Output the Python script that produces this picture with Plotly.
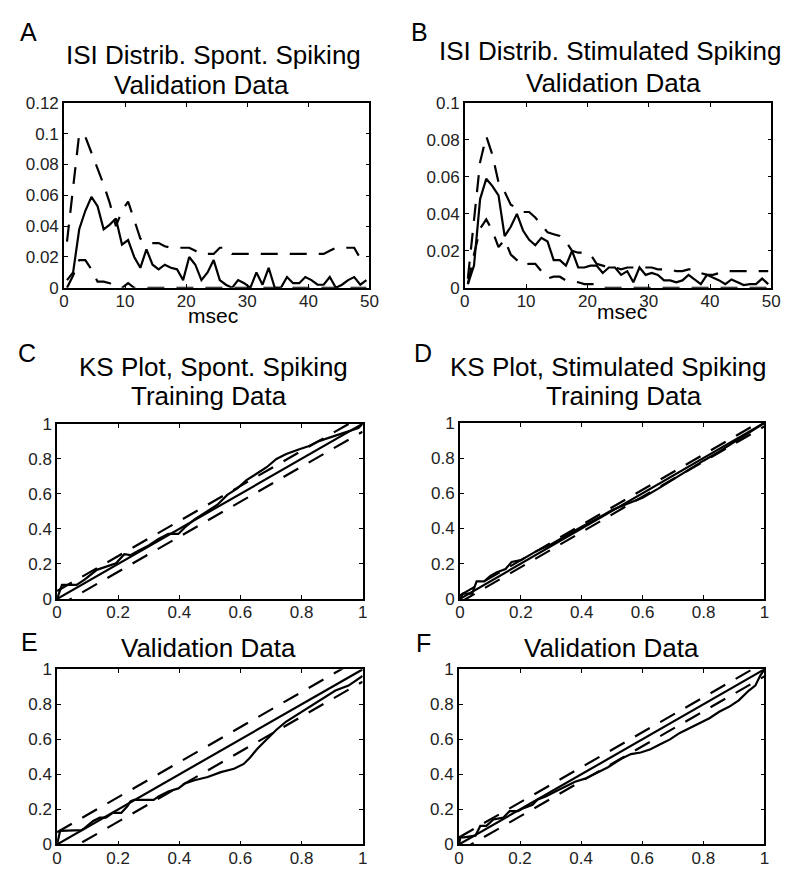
import plotly.graph_objects as go

W, H = 798, 875
FONT = "Liberation Sans, Arial, Helvetica, sans-serif"

# ---------------- data ----------------
isi_msec = [i + 0.5 for i in range(50)]

A_model = [0.005, 0.010, 0.038, 0.050, 0.059, 0.053, 0.038, 0.041, 0.045, 0.028,
           0.031, 0.020, 0.013, 0.025, 0.015, 0.012, 0.015, 0.013, 0.012, 0.005,
           0.020, 0.015, 0.005, 0.010, 0.018, 0.005, 0.002, 0.000, 0.005, 0.003,
           0.000, 0.010, 0.002, 0.013, 0.000, 0.000, 0.007, 0.003, 0.003, 0.007,
           0.005, 0.002, 0.002, 0.007, 0.000, 0.002, 0.005, 0.007, 0.002, 0.005]
A_upper = [0.030, 0.065, 0.100, 0.098, 0.088, 0.078, 0.067, 0.055, 0.040, 0.050,
           0.056, 0.044, 0.032, 0.029, 0.029, 0.029, 0.027, 0.026, 0.026, 0.026,
           0.026, 0.024, 0.022, 0.022, 0.022, 0.026, 0.026, 0.022, 0.022, 0.022,
           0.022, 0.022, 0.022, 0.022, 0.022, 0.022, 0.022, 0.022, 0.022, 0.022,
           0.022, 0.022, 0.022, 0.024, 0.026, 0.026, 0.026, 0.026, 0.019, 0.021]
A_lower = [0.000, 0.008, 0.018, 0.018, 0.012, 0.004, 0.004, 0.003, 0.000, 0.000,
           0.003, 0.000] + [0.0] * 38

B_model = [0.002, 0.012, 0.048, 0.059, 0.055, 0.050, 0.028, 0.033, 0.040, 0.031,
           0.026, 0.023, 0.027, 0.025, 0.015, 0.015, 0.012, 0.020, 0.011, 0.011,
           0.012, 0.012, 0.008, 0.011, 0.011, 0.007, 0.009, 0.003, 0.011, 0.007,
           0.008, 0.007, 0.004, 0.004, 0.003, 0.004, 0.007, 0.0045, 0.002, 0.007,
           0.0055, 0.004, 0.002, 0.0045, 0.003, 0.0015, 0.002, 0.002, 0.005, 0.002]
B_upper = [0.005, 0.035, 0.068, 0.082, 0.072, 0.057, 0.052, 0.045, 0.043, 0.041,
           0.041, 0.038, 0.034, 0.030, 0.029, 0.028, 0.025, 0.020, 0.019, 0.019,
           0.018, 0.013, 0.012, 0.011, 0.011, 0.010, 0.011, 0.011, 0.011, 0.011,
           0.011, 0.010, 0.010, 0.010, 0.009, 0.009, 0.010, 0.010, 0.008, 0.007,
           0.007, 0.008, 0.009, 0.009, 0.009, 0.009, 0.009, 0.009, 0.009, 0.009]
B_lower = [0.002, 0.018, 0.032, 0.037, 0.031, 0.022, 0.026, 0.018, 0.015, 0.012,
           0.013, 0.013, 0.009, 0.005, 0.006, 0.006, 0.004, 0.0035, 0.003, 0.002,
           0.002, 0.002] + [0.0] * 28

# KS plots: empirical curve (model quantiles vs uniform quantiles)
C_x = [0, 0.016, 0.064, 0.09, 0.13, 0.16, 0.193, 0.22, 0.24, 0.268, 0.3, 0.332, 0.364,
       0.397, 0.418, 0.45, 0.493, 0.525, 0.557, 0.59, 0.62, 0.654, 0.686, 0.718, 0.75,
       0.793, 0.825, 0.857, 0.89, 0.92, 0.954, 0.986, 1.0]
C_y = [0, 0.08, 0.08, 0.11, 0.166, 0.184, 0.203, 0.255, 0.25, 0.277, 0.305, 0.343, 0.371,
       0.371, 0.408, 0.454, 0.5, 0.538, 0.594, 0.631, 0.678, 0.715, 0.752, 0.799, 0.827,
       0.855, 0.873, 0.901, 0.92, 0.938, 0.957, 0.976, 1.0]
C_band = 0.045

D_x = [0, 0.01, 0.04, 0.055, 0.08, 0.1, 0.12, 0.15, 0.17, 0.2, 0.25, 0.3, 0.35, 0.4,
       0.45, 0.5, 0.55, 0.6, 0.65, 0.7, 0.75, 0.8, 0.85, 0.9, 0.95, 1.0]
D_y = [0, 0.03, 0.03, 0.1, 0.1, 0.13, 0.15, 0.17, 0.21, 0.22, 0.27, 0.31, 0.36, 0.41,
       0.455, 0.505, 0.54, 0.575, 0.625, 0.68, 0.735, 0.785, 0.835, 0.89, 0.945, 1.0]
D_band = 0.02

E_x = [0, 0.01, 0.08, 0.09, 0.118, 0.14, 0.16, 0.182, 0.21, 0.23, 0.24, 0.252, 0.316,
       0.332, 0.364, 0.397, 0.418, 0.45, 0.493, 0.536, 0.579, 0.611, 0.632, 0.654, 0.675,
       0.697, 0.718, 0.75, 0.793, 0.825, 0.868, 0.911, 0.954, 1.0]
E_y = [0, 0.078, 0.082, 0.093, 0.134, 0.153, 0.153, 0.18, 0.18, 0.218, 0.246, 0.255, 0.255,
       0.274, 0.302, 0.32, 0.348, 0.367, 0.385, 0.413, 0.432, 0.46, 0.497, 0.544, 0.581,
       0.618, 0.655, 0.702, 0.749, 0.786, 0.832, 0.879, 0.907, 0.963]
E_band = 0.07

F_x = [0, 0.005, 0.016, 0.054, 0.07, 0.09, 0.113, 0.145, 0.166, 0.193, 0.214, 0.241, 0.257,
       0.284, 0.316, 0.348, 0.38, 0.413, 0.445, 0.488, 0.53, 0.563, 0.595, 0.627, 0.659,
       0.691, 0.723, 0.756, 0.788, 0.82, 0.852, 0.884, 0.916, 0.949, 0.97, 0.986, 1.0]
F_y = [0, 0.04, 0.04, 0.05, 0.106, 0.106, 0.143, 0.153, 0.19, 0.19, 0.209, 0.227, 0.255,
       0.274, 0.302, 0.33, 0.358, 0.376, 0.404, 0.441, 0.488, 0.516, 0.525, 0.544, 0.572,
       0.6, 0.637, 0.665, 0.693, 0.721, 0.758, 0.786, 0.823, 0.879, 0.907, 0.963, 1.0]
F_band = 0.04

ks_ticks = [0, 0.2, 0.4, 0.6, 0.8, 1]
isi_xticks = [0, 10, 20, 30, 40, 50]
A_yticks = [0, 0.02, 0.04, 0.06, 0.08, 0.1, 0.12]
B_yticks = [0, 0.02, 0.04, 0.06, 0.08, 0.1]

# ---------------- layout helpers (pixel boxes) ----------------
boxes = {
    1: (60, 371, 96, 285),    # A
    2: (468, 780, 96, 285),   # B
    3: (53, 364, 424, 603),   # C
    4: (463, 773, 423, 603),  # D
    5: (53, 364, 675, 854),   # E
    6: (462, 773, 675, 854),  # F
}

def px(x):
    return x / W

def py(y):
    return 1 - y / H

fig = go.Figure()
LW = 2.2
DASH = "17px,12px"

def add_line(i, x, y, dash="solid"):
    s = "" if i == 1 else str(i)
    fig.add_trace(go.Scatter(x=x, y=y, mode="lines", xaxis="x" + s, yaxis="y" + s,
                             line=dict(color="black", width=LW, dash=dash),
                             showlegend=False, hoverinfo="skip"))

# ISI panels
add_line(1, isi_msec, A_upper, DASH)
add_line(1, isi_msec, A_lower, DASH)
add_line(1, isi_msec, A_model)
add_line(2, isi_msec, B_upper, DASH)
add_line(2, isi_msec, B_lower, DASH)
add_line(2, isi_msec, B_model)

# KS panels
for i, (kx, ky, band) in zip([3, 4, 5, 6], [(C_x, C_y, C_band), (D_x, D_y, D_band),
                                            (E_x, E_y, E_band), (F_x, F_y, F_band)]):
    add_line(i, [0, 1], [0 + band, 1 + band], DASH)
    add_line(i, [0, 1], [0 - band, 1 - band], DASH)
    add_line(i, [0, 1], [0, 1])
    add_line(i, kx, ky)

axis_common = dict(showline=True, linecolor="black", linewidth=1.5, mirror="ticks",
                   ticks="inside", ticklen=4, tickwidth=1, tickcolor="black",
                   showgrid=False, zeroline=False, fixedrange=True,
                   tickfont=dict(family=FONT, size=17, color="#222"))

layout = dict(width=W, height=H, margin=dict(l=0, r=0, t=0, b=0),
              paper_bgcolor="white", plot_bgcolor="white", showlegend=False)

for i, (x0, x1, y0, y1) in boxes.items():
    s = "" if i == 1 else str(i)
    xa = dict(axis_common, domain=[px(x0), px(x1)], anchor="y" + s, ticklabelstandoff=-3)
    ya = dict(axis_common, domain=[py(y1), py(y0)], anchor="x" + s)
    if i == 1:
        xa.update(range=[0, 50], tickvals=isi_xticks)
        ya.update(range=[0, 0.12], tickvals=A_yticks)
    elif i == 2:
        xa.update(range=[0, 50], tickvals=isi_xticks)
        ya.update(range=[0, 0.1], tickvals=B_yticks)
    else:
        xa.update(range=[0, 1], tickvals=ks_ticks)
        ya.update(range=[0, 1], tickvals=ks_ticks)
    layout["xaxis" + s] = xa
    layout["yaxis" + s] = ya

fig.update_layout(**layout)

def text(x, y, t, size, xanchor="center"):
    fig.add_annotation(x=px(x), y=py(y), xref="paper", yref="paper", text=t,
                       showarrow=False, xanchor=xanchor, yanchor="middle",
                       font=dict(family=FONT, size=size, color="black"))

TS = 26
# titles (y given as cap-middle pixel)
text(212, 47, "ISI Distrib. Spont. Spiking", TS)
text(200, 78, "Validation Data", TS)
text(616, 43, "ISI Distrib. Stimulated Spiking", TS)
text(619, 76, "Validation Data", TS)
text(212, 366, "KS Plot, Spont. Spiking", TS)
text(208, 396, "Training Data", TS)
text(614, 366, "KS Plot, Stimulated Spiking", TS)
text(630, 396, "Training Data", TS)
text(207, 653, "Validation Data", TS)
text(617, 653, "Validation Data", TS)

# panel letters
LS = 25
text(13, 23, "A", LS, "left")
text(411, 23, "B", LS, "left")
text(11, 352, "C", LS, "left")
text(414, 352, "D", LS, "left")
text(14, 647, "E", LS, "left")
text(416, 648, "F", LS, "left")

# x labels
text(212, 313, "msec", 21)
text(628, 309, "msec", 21)

fig.write_html("out.html", config=dict(displayModeBar=False),
               post_script="document.body.style.margin='0';document.body.style.padding='0';")
